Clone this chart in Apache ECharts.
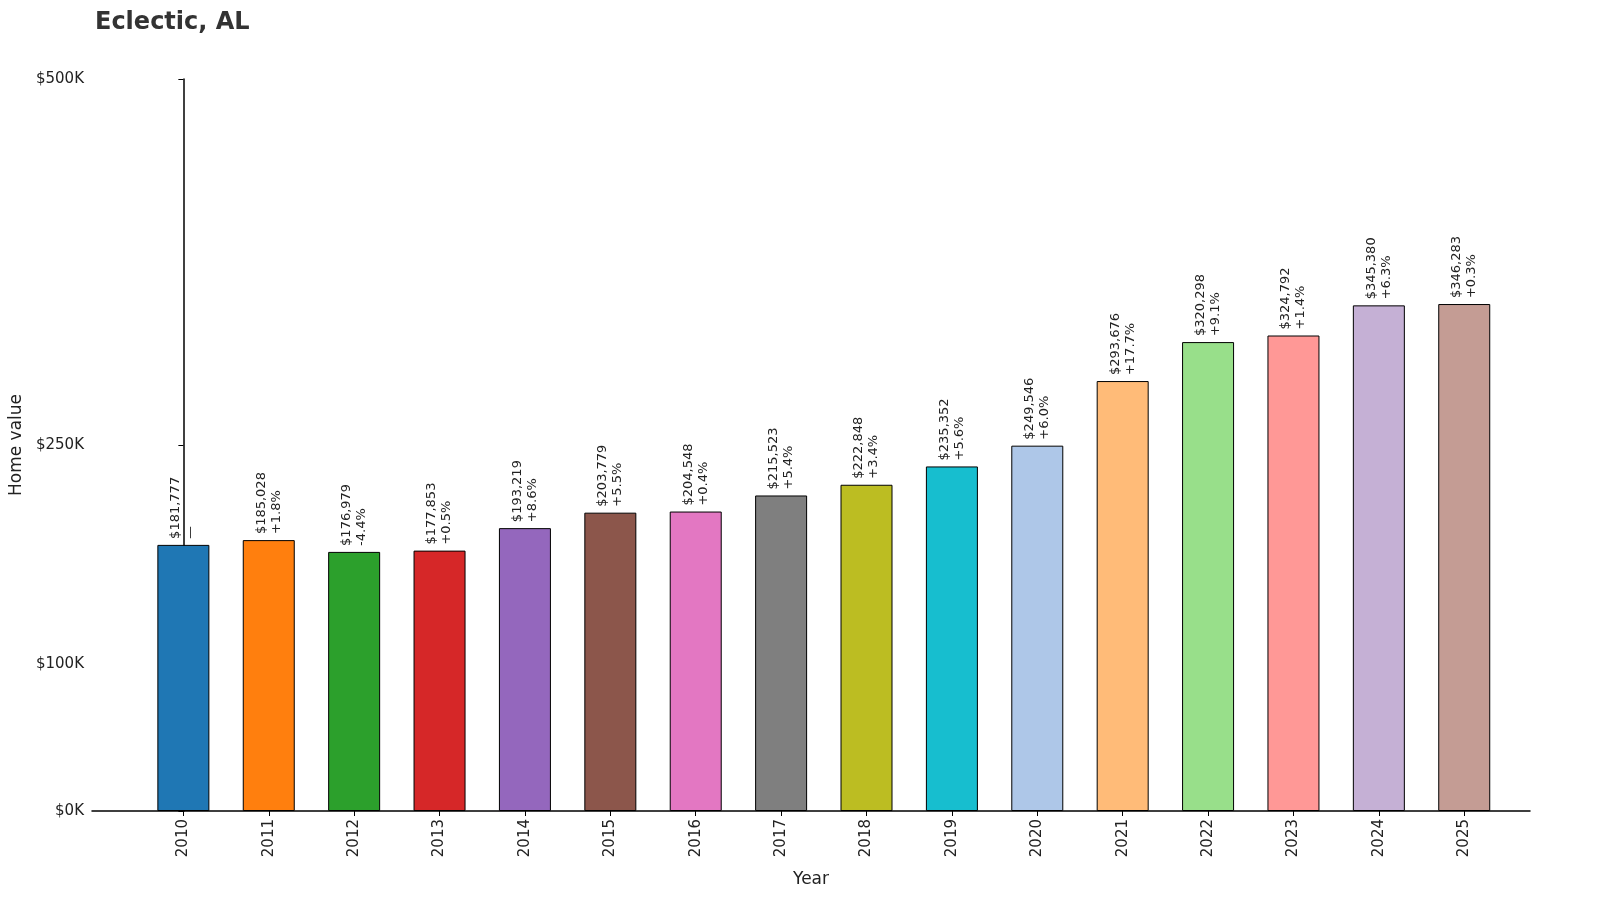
<!DOCTYPE html>
<html>
<head>
<meta charset="utf-8">
<script src="https://cdn.jsdelivr.net/npm/echarts@6/dist/echarts.min.js"></script>
<style>html,body{margin:0;padding:0;background:#fff}#chart{width:1600px;height:911px}</style>
</head>
<body>
<div id="chart"></div>
<script>
// 데이터
const years = ['2010', '2011', '2012', '2013', '2014', '2015', '2016', '2017', '2018', '2019', '2020', '2021', '2022', '2023', '2024', '2025'];
const values = [181777, 185028, 176979, 177853, 193219, 203779, 204548, 215523, 222848, 235352, 249546, 293676, 320298, 324792, 345380, 346283];
const changes = ['—', '+1.8%', '-4.4%', '+0.5%', '+8.6%', '+5.5%', '+0.4%', '+5.4%', '+3.4%', '+5.6%', '+6.0%', '+17.7%', '+9.1%', '+1.4%', '+6.3%', '+0.3%'];
const colors = ['#1f77b4', '#ff7f0e', '#2ca02c', '#d62728', '#9467bd', '#8c564b', '#e377c2', '#7f7f7f', '#bcbd22', '#17becf', '#aec7e8', '#ffbb78', '#98df8a', '#ff9896', '#c5b0d5', '#c49c94'];
const yTicks = [0, 100000, 250000, 500000];
const xTicks = years.map(function (y, i) { return i; });

var myChart = echarts.init(document.getElementById('chart'));
myChart.setOption({
  animation: false,
  textStyle: { fontFamily: 'DejaVu Sans' },
  title: {
    text: 'Eclectic, AL',
    left: 90, top: 6,
    textStyle: { fontSize: 24, fontWeight: 'bold', color: '#333' }
  },
  grid: { left: 92, right: 70, top: 79, bottom: 100, outerBoundsMode: 'none', containLabel: false },
  xAxis: {
    type: 'value',
    min: -1.07, max: 15.77,
    name: 'Year',
    nameLocation: 'middle',
    nameGap: 60,
    nameTextStyle: { fontSize: 17, color: '#222' },
    splitLine: { show: false },
    axisLine: { lineStyle: { color: '#000', width: 1.5 } },
    axisTick: { show: true, customValues: xTicks, lineStyle: { color: '#000' } },
    axisLabel: {
      customValues: xTicks, rotate: 90, fontSize: 15, color: '#222', margin: 8,
      formatter: function (v) { return years[Math.round(v)]; }
    }
  },
  yAxis: {
    type: 'value',
    min: 0, max: 500000,
    name: 'Home value',
    nameLocation: 'middle',
    nameGap: 64,
    nameTextStyle: { fontSize: 17, color: '#222' },
    splitLine: { show: false },
    axisLine: { show: true, lineStyle: { color: '#000', width: 1.5 } },
    axisTick: { show: true, customValues: yTicks, lineStyle: { color: '#000' } },
    axisLabel: {
      customValues: yTicks, fontSize: 15, color: '#222',
      formatter: function (v) { return '$' + (v / 1000) + 'K'; }
    }
  },
  series: [{
    type: 'bar',
    barWidth: 52,
    data: values.map(function (v, i) {
      return { value: [i, v], itemStyle: { color: colors[i], borderColor: '#000', borderWidth: 1 } };
    }),
    label: {
      show: true,
      position: 'top',
      rotate: 90,
      align: 'left',
      verticalAlign: 'middle',
      distance: 6,
      fontSize: 13,
      lineHeight: 15,
      color: '#222',
      formatter: function (p) {
        return '$' + p.value[1].toLocaleString('en-US') + '\n' + changes[p.dataIndex];
      }
    }
  }]
});
</script>
</body>
</html>
